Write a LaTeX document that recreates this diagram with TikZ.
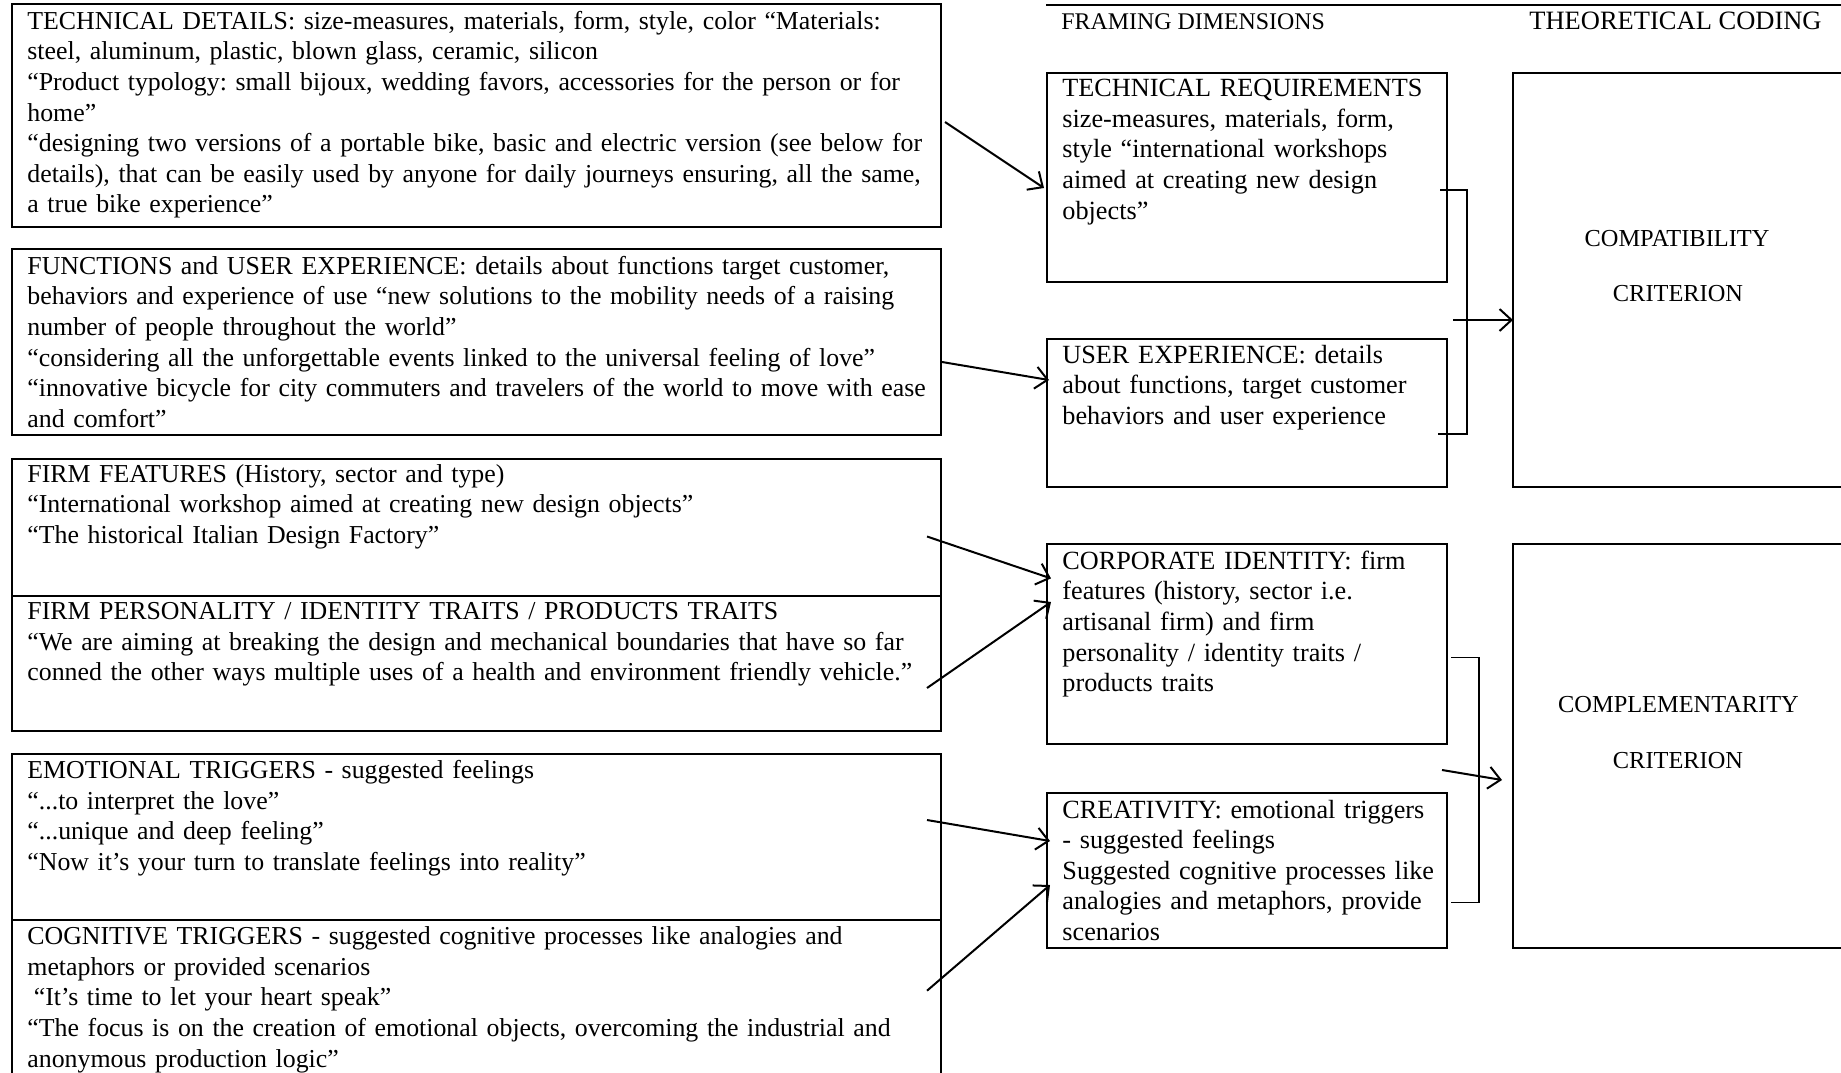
\documentclass[tikz,border=0pt]{standalone}
\usepackage{fontspec}
\setmainfont{Liberation Serif}
\usetikzlibrary{arrows.meta}
\begin{document}
\begin{tikzpicture}[x=0.5pt,y=-0.5pt,
  bx/.style={draw=black,line width=1pt,inner sep=0pt,outer sep=0pt,anchor=north west},
  leftfont/.style={font=\fontsize{12.92}{15.3}\selectfont\frenchspacing},
  rightfont/.style={font=\fontsize{13.12}{15.3}\selectfont\frenchspacing},
  txtL/.style={leftfont,anchor=base west,inner sep=0pt,align=left,text width=470pt},
  txtR/.style={rightfont,anchor=base west,inner sep=0pt,align=left,text width=205pt},
  lab/.style={font=\fontsize{12.2}{15}\selectfont,anchor=base,inner sep=0pt},
  arr/.style={line width=1pt,-{Straight Barb[length=6pt,width=11pt,line width=1pt]}},
  brk/.style={line width=0.8pt}]
\useasboundingbox (0,0) rectangle (1841,1072);
\clip (0,0) rectangle (1841,1072);

% left boxes
\node[bx,minimum width=464.3pt,minimum height=111.35pt] (b1) at (12,4) {};
\node[bx,minimum width=464.3pt,minimum height=92.85pt] (b2) at (12,249.3) {};
\node[bx,minimum width=464.3pt,minimum height=136.2pt] (b3) at (12,459) {};
\node[bx,minimum width=464.3pt,minimum height=170pt] (b4) at (12,754.4) {};
\coordinate (d3) at (0,596);
\coordinate (d4) at (0,919.6);
\draw[line width=1pt] (b3.west |- d3) -- (b3.east |- d3);
\draw[line width=1pt] (b4.west |- d4) -- (b4.east |- d4);

% right boxes
\node[bx,minimum width=200pt,minimum height=104.5pt] (tr) at (1047,73) {};
\node[bx,minimum width=200pt,minimum height=74pt] (ue) at (1047,339) {};
\node[bx,minimum width=200pt,minimum height=100.2pt] (ci) at (1047,544) {};
\node[bx,minimum width=200pt,minimum height=77.7pt] (cr) at (1047,792.6) {};
\node[bx,minimum width=173.5pt,minimum height=207pt] (cmp) at (1513,73) {};
\node[bx,minimum width=173.5pt,minimum height=202pt] (cpl) at (1513,544) {};

% top rule and headers
\coordinate (rl) at (1046,5);
\coordinate (rr) at (1850,5);
\draw[line width=1pt] (rl) -- (rr);
\node[anchor=base west,inner sep=0pt,font=\fontsize{11.95}{14}\selectfont] (hfd) at (1061,29.3) {FRAMING DIMENSIONS};
\node[anchor=base west,inner sep=0pt,font=\fontsize{13.25}{15}\selectfont] (htc) at (1529,29.3) {THEORETICAL CODING};

% left texts
\node[txtL] (t1) at (27,29.3) {TECHNICAL DETAILS: size-measures, materials, form, style, color “Materials:\\
steel, aluminum, plastic, blown glass, ceramic, silicon\\
“Product typology: small bijoux, wedding favors, accessories for the person or for\\
home”\\
“designing two versions of a portable bike, basic and electric version (see below for\\
details), that can be easily used by anyone for daily journeys ensuring, all the same,\\
a true bike experience”};
\node[txtL] (t2) at (27,274.3) {FUNCTIONS and USER EXPERIENCE: details about functions target customer,\\
behaviors and experience of use “new solutions to the mobility needs of a raising\\
number of people throughout the world”\\
“considering all the unforgettable events linked to the universal feeling of love”\\
“innovative bicycle for city commuters and travelers of the world to move with ease\\
and comfort”};
\node[txtL] (t3a) at (27,482.3) {FIRM FEATURES (History, sector and type)\\
“International workshop aimed at creating new design objects”\\
“The historical Italian Design Factory”};
\node[txtL] (t3b) at (27,619.4) {FIRM PERSONALITY / IDENTITY TRAITS / PRODUCTS TRAITS\\
“We are aiming at breaking the design and mechanical boundaries that have so far\\
conned the other ways multiple uses of a health and environment friendly vehicle.”};
\node[txtL] (t4a) at (27,778.6) {EMOTIONAL TRIGGERS - suggested feelings\\
“...to interpret the love”\\
“...unique and deep feeling”\\
“Now it’s your turn to translate feelings into reality”};
\node[txtL] (t4b) at (27,944.6) {COGNITIVE TRIGGERS - suggested cognitive processes like analogies and\\
metaphors or provided scenarios\\
\hspace*{0.25em}“It’s time to let your heart speak”\\
“The focus is on the creation of emotional objects, overcoming the industrial and\\
anonymous production logic”};

% right texts
\node[txtR] (ttr) at (1062,96.7) {TECHNICAL REQUIREMENTS\\
size-measures, materials, form,\\
style “international workshops\\
aimed at creating new design\\
objects”};
\node[txtR] (tue) at (1062,363) {USER EXPERIENCE: details\\
about functions, target customer\\
behaviors and user experience};
\node[txtR] (tci) at (1062,569.3) {CORPORATE IDENTITY: firm\\
features (history, sector i.e.\\
artisanal firm) and firm\\
personality / identity traits /\\
products traits};
\node[txtR] (tcr) at (1062,818) {CREATIVITY: emotional triggers\\
- suggested feelings\\
Suggested cognitive processes like\\
analogies and metaphors, provide\\
scenarios};

\node[lab] (c1a) at (1677,246.7) {COMPATIBILITY};
\node[lab] (c1b) at (1678,301.7) {CRITERION};
\node[lab] (c2a) at (1678.5,712.3) {COMPLEMENTARITY};
\node[lab] (c2b) at (1678,768) {CRITERION};

% arrows left -> middle
\coordinate (a1s) at (945,122);   \coordinate (a1e) at (1044,188);
\coordinate (a2s) at (942,362);   \coordinate (a2e) at (1049,380);
\coordinate (a3s) at (927,536.5); \coordinate (a3e) at (1051,578.4);
\coordinate (a4s) at (927,688);   \coordinate (a4e) at (1051,602);
\coordinate (a5s) at (927,820);   \coordinate (a5e) at (1050,841);
\coordinate (a6s) at (927,990.7); \coordinate (a6e) at (1050,885);
\draw[arr] (a1s) -- (a1e);
\draw[arr] (a2s) -- (a2e);
\draw[arr] (a3s) -- (a3e);
\draw[arr] (a4s) -- (a4e);
\draw[arr] (a5s) -- (a5e);
\draw[arr] (a6s) -- (a6e);

% brackets and arrows to criteria
\coordinate (k1a) at (1440,190); \coordinate (k1b) at (1467,190);
\coordinate (k1c) at (1467,434); \coordinate (k1d) at (1438,434);
\draw[brk] (k1a) -- (k1b) -- (k1c) -- (k1d);
\coordinate (m1) at (1453,320);
\draw[arr] (m1) -- (cmp.west |- m1);

\coordinate (k2a) at (1451,657.6); \coordinate (k2b) at (1479,657.6);
\coordinate (k2c) at (1479,902.4); \coordinate (k2d) at (1451,902.4);
\draw[brk] (k2a) -- (k2b) -- (k2c) -- (k2d);
\coordinate (m2s) at (1442,770); \coordinate (m2e) at (1502,780);
\draw[arr] (m2s) -- (m2e);
\end{tikzpicture}
\end{document}
